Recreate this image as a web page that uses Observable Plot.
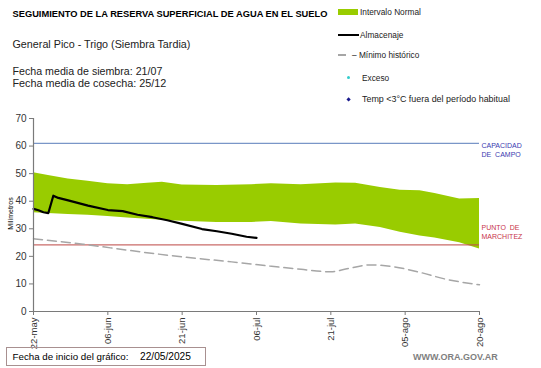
<!DOCTYPE html>
<html><head><meta charset="utf-8">
<script src="https://cdn.jsdelivr.net/npm/d3@7"></script>
<script src="https://cdn.jsdelivr.net/npm/@observablehq/plot@0.6"></script>
<style>
body{margin:0;background:#fff;font-family:"Liberation Sans",Arial,sans-serif}
#wrap{position:relative;width:541px;height:368px;overflow:hidden;background:#fff}
#wrap svg{position:absolute;left:0;top:0}
.t{position:absolute;white-space:nowrap;line-height:1;color:#000}
.lg{font-size:8.3px;color:#222}
</style></head><body>
<div id="wrap">
  <div id="chart"></div>
  <div class="t fit" data-w="315" data-cy="15" style="left:12.5px;font-weight:bold;font-size:8.8px">SEGUIMIENTO DE LA RESERVA SUPERFICIAL DE AGUA EN EL SUELO</div>
  <div class="t fit" data-w="178" data-cy="44.5" style="left:12.5px;font-size:11px;color:#222">General Pico - Trigo (Siembra Tardia)</div>
  <div class="t fit" data-w="150" data-cy="71.5" style="left:12.5px;font-size:11px;color:#222">Fecha media de siembra: 21/07</div>
  <div class="t fit" data-w="154" data-cy="83.5" style="left:12.5px;font-size:11px;color:#222">Fecha media de cosecha: 25/12</div>

  <div style="position:absolute;left:338px;top:9px;width:20px;height:6px;background:#99cc00"></div>
  <div class="t lg" style="left:360px;top:8px">Intervalo Normal</div>
  <div style="position:absolute;left:338px;top:33.5px;width:21px;height:2px;background:#000"></div>
  <div class="t lg" style="left:360px;top:30.5px">Almacenaje</div>
  <div style="position:absolute;left:338px;top:54px;width:8px;height:1.5px;background:#a6a6a6"></div>
  <div class="t lg" style="left:352px;top:50.5px">– Mínimo histórico</div>
  <div style="position:absolute;left:346.5px;top:76px;width:3px;height:3px;border-radius:50%;background:#33cccc"></div>
  <div class="t lg" style="left:362px;top:73.5px">Exceso</div>
  <div style="position:absolute;left:346.5px;top:97.5px;width:3.2px;height:3.2px;transform:rotate(45deg);background:#1a1a8c"></div>
  <div class="t lg fit" data-w="148" data-cy="99" style="left:362px">Temp &lt;3°C fuera del período habitual</div>

  <div class="t" style="left:-14px;top:210px;font-size:7px;transform:rotate(-90deg);transform-origin:center;width:48px;text-align:center">Milímetros</div>

  <div style="position:absolute;left:6px;top:347px;width:198px;height:17px;border:1px solid #a89090"></div>
  <div class="t fit" data-w="116" data-cy="357" style="left:12.5px;font-size:11px">Fecha de inicio del gráfico:</div>
  <div class="t fit" data-w="51" data-cy="357" style="left:140px;font-size:11px">22/05/2025</div>
  <div class="t" style="left:413px;top:353px;font-size:9px;font-weight:bold;color:#7f7f7f">WWW.ORA.GOV.AR</div>
</div>
<script>
// ---- data ----
const bandDates = ["2025-05-22","2025-05-25","2025-05-29","2025-06-02","2025-06-06","2025-06-10","2025-06-14","2025-06-17","2025-06-21","2025-06-28","2025-07-05","2025-07-09","2025-07-15","2025-07-22","2025-07-26","2025-07-31","2025-08-04","2025-08-08","2025-08-11","2025-08-16","2025-08-20"];
const bandUpper = [50.3,49.3,48.1,47.2,46.3,46.0,46.5,46.9,45.9,45.7,46.0,46.3,46.0,46.6,46.5,45.0,44.0,43.8,42.8,40.8,41.0];
const bandLower = [35.8,35.5,35.2,34.9,34.5,33.9,33.5,33.1,32.7,32.3,32.3,32.6,31.7,31.4,31.7,30.5,28.7,27.4,26.7,24.9,22.7];

const almDates = ["2025-05-22","2025-05-23","2025-05-24","2025-05-25","2025-05-26","2025-05-27","2025-05-29","2025-06-02","2025-06-06","2025-06-09","2025-06-12","2025-06-15","2025-06-18","2025-06-21","2025-06-25","2025-06-28","2025-07-01","2025-07-04","2025-07-06"];
const almValues = [37.2,36.7,36.0,35.7,42.0,41.2,40.3,38.4,36.8,36.4,35.1,34.2,33.1,31.8,29.9,29.1,28.2,27.1,26.7];

const minDates = ["2025-05-22","2025-06-01","2025-06-11","2025-06-21","2025-07-01","2025-07-09","2025-07-15","2025-07-21","2025-07-24","2025-07-29","2025-08-02","2025-08-08","2025-08-13","2025-08-20"];
const minValues = [26.4,24.4,22.0,19.8,18.0,16.4,15.3,14.4,15.4,16.9,16.4,14.2,11.8,9.7];

const capacidadCampo = 61;
const puntoMarchitez = 24.2;

const xTickDates = ["2025-05-22","2025-06-06","2025-06-21","2025-07-06","2025-07-21","2025-08-05","2025-08-20"];
const xTickLabels = ["22-may","06-jun","21-jun","06-jul","21-jul","05-ago","20-ago"];
const yTicks = [0,10,20,30,40,50,60,70];

// ---- build ----
const P = s => new Date(s + "T00:00:00Z");
const band = bandDates.map((d,i)=>({date:P(d), hi:bandUpper[i], lo:bandLower[i]}));
const alm = almDates.map((d,i)=>({date:P(d), v:almValues[i]}));
const mn = minDates.map((d,i)=>({date:P(d), v:minValues[i]}));
const ticks = xTickDates.map(P);
const labelMap = new Map(ticks.map((d,i)=>[+d, xTickLabels[i]]));
const x0 = ticks[0], x1 = ticks[ticks.length-1];

const chart = Plot.plot({
  width: 541, height: 368,
  marginLeft: 33, marginRight: 62, marginTop: 118, marginBottom: 57,
  style: {fontFamily: "'Liberation Sans', Arial, sans-serif", fontSize: "10px", background: "transparent", color:"#333"},
  x: {type: "utc", domain: [x0, x1]},
  y: {domain: [0, 70]},
  marks: [
    Plot.areaY(band, {x: "date", y1: "lo", y2: "hi", fill: "#99cc00"}),
    Plot.ruleY([capacidadCampo], {stroke: "#7a96c8", strokeWidth: 1.2}),
    Plot.ruleY([puntoMarchitez], {stroke: "#c0504d", strokeWidth: 1.2, strokeOpacity: 0.85}),
    Plot.line(mn, {x: "date", y: "v", stroke: "#a6a6a6", strokeWidth: 1.5, strokeDasharray: "9,5", curve: "monotone-x"}),
    Plot.line(alm, {x: "date", y: "v", stroke: "#000", strokeWidth: 2.2}),
    Plot.ruleX([x0], {stroke: "#7a7a7a", strokeWidth: 1.2}),
    Plot.ruleY([0], {stroke: "#7a7a7a", strokeWidth: 1.2}),
    Plot.axisY({ticks: yTicks, tickSize: 4, tickPadding: 3, stroke: "#7a7a7a", fill: "#333", label: null, fontSize: 10}),
    Plot.axisX({ticks: ticks, tickSize: 4, tickPadding: 2, tickRotate: -90, tickFormat: d => labelMap.get(+d), stroke: "#7a7a7a", fill: "#333", label: null, fontSize: 9.5}),
    Plot.text([capacidadCampo], {x: x1, y: d => d, text: () => "CAPACIDAD\nDE  CAMPO", textAnchor: "start", lineAnchor: "top", dx: 2, dy: -2, fill: "#3a3ab0", fontSize: 7, lineHeight: 1.3}),
    Plot.text([puntoMarchitez], {x: x1, y: d => d, text: () => "PUNTO  DE\nMARCHITEZ", textAnchor: "start", lineAnchor: "bottom", dx: 2, dy: -6, fill: "#c8354a", fontSize: 7, lineHeight: 1.3})
  ]
});
document.getElementById("chart").appendChild(chart);

// fit header/footer texts to the widths measured on the reference
document.querySelectorAll(".fit").forEach(el => {
  const fs = parseFloat(getComputedStyle(el).fontSize);
  const w = el.getBoundingClientRect().width;
  const target = +el.dataset.w;
  const nfs = fs * target / w;
  el.style.fontSize = nfs + "px";
  el.style.top = (+el.dataset.cy - nfs / 2) + "px";
});
</script>
</body></html>
